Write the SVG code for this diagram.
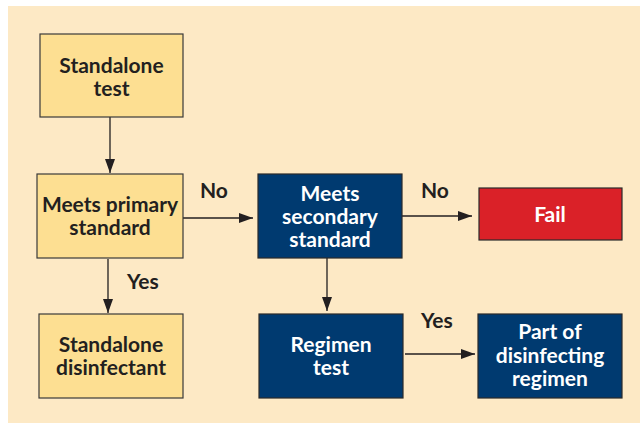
<svg xmlns="http://www.w3.org/2000/svg" width="640" height="423" viewBox="0 0 640 423">
<defs>
<style>
.bg{fill:#fde9c5}
.y{fill:#fddf92;stroke:#3a3a3a;stroke-width:1.2}
.b{fill:#003a70;stroke:#2a2a2a;stroke-width:1.2}
.r{fill:#da2128;stroke:#2a2a2a;stroke-width:1.2}
text{font-family:Lato,"Noto Sans","Liberation Sans",sans-serif;font-weight:700;font-size:21px;text-anchor:middle}
.dk{fill:#231f20}
.wt{fill:#ffffff}
.lbl{fill:#231f20;text-anchor:start}
.c{stroke:#231f20;stroke-width:1.3;fill:none;marker-end:url(#ah)}
</style>
<marker id="ah" viewBox="0 0 14 10" refX="14" refY="5" markerWidth="14" markerHeight="10" markerUnits="userSpaceOnUse" orient="auto">
<path d="M0,0 L14,5 L0,10 Z" fill="#231f20"/>
</marker>
</defs>
<rect x="0" y="0" width="640" height="423" fill="#ffffff"/>
<rect class="bg" x="8" y="6" width="632" height="417"/>
<g id="connectors">
<line class="c" x1="110" y1="117" x2="110" y2="173"/>
<line class="c" x1="183" y1="218" x2="253" y2="218"/>
<line class="c" x1="108" y1="259" x2="108" y2="313"/>
<line class="c" x1="402" y1="216" x2="472" y2="216"/>
<line class="c" x1="327" y1="258" x2="327" y2="311"/>
<line class="c" x1="405" y1="354" x2="475" y2="354"/>
<text class="lbl" x="200" y="198">No</text>
<text class="lbl" x="421" y="198">No</text>
<text class="lbl" x="127" y="289">Yes</text>
<text class="lbl" x="421" y="328">Yes</text>
</g>
<g id="standalone-test">
<rect class="y" x="40" y="34" width="143" height="83"/>
<text class="dk" x="111.5" y="73">Standalone</text>
<text class="dk" x="111.5" y="96">test</text>
</g>
<g id="meets-primary">
<rect class="y" x="37" y="174" width="146" height="84"/>
<text class="dk" x="110" y="212">Meets primary</text>
<text class="dk" x="110" y="235">standard</text>
</g>
<g id="standalone-disinfectant">
<rect class="y" x="39" y="314" width="144" height="84"/>
<text class="dk" x="111" y="352">Standalone</text>
<text class="dk" x="111" y="375">disinfectant</text>
</g>
<g id="meets-secondary">
<rect class="b" x="258" y="174" width="144" height="84"/>
<text class="wt" x="330" y="201">Meets</text>
<text class="wt" x="330" y="224">secondary</text>
<text class="wt" x="330" y="247">standard</text>
</g>
<g id="fail">
<rect class="r" x="479" y="188" width="143" height="52"/>
<text class="wt" x="550" y="222">Fail</text>
</g>
<g id="regimen-test">
<rect class="b" x="259" y="314" width="144" height="84"/>
<text class="wt" x="331" y="352">Regimen</text>
<text class="wt" x="331" y="375">test</text>
</g>
<g id="part-of-regimen">
<rect class="b" x="478" y="314" width="144" height="84"/>
<text class="wt" x="550" y="339">Part of</text>
<text class="wt" x="550" y="363">disinfecting</text>
<text class="wt" x="550" y="386">regimen</text>
</g>
</svg>
